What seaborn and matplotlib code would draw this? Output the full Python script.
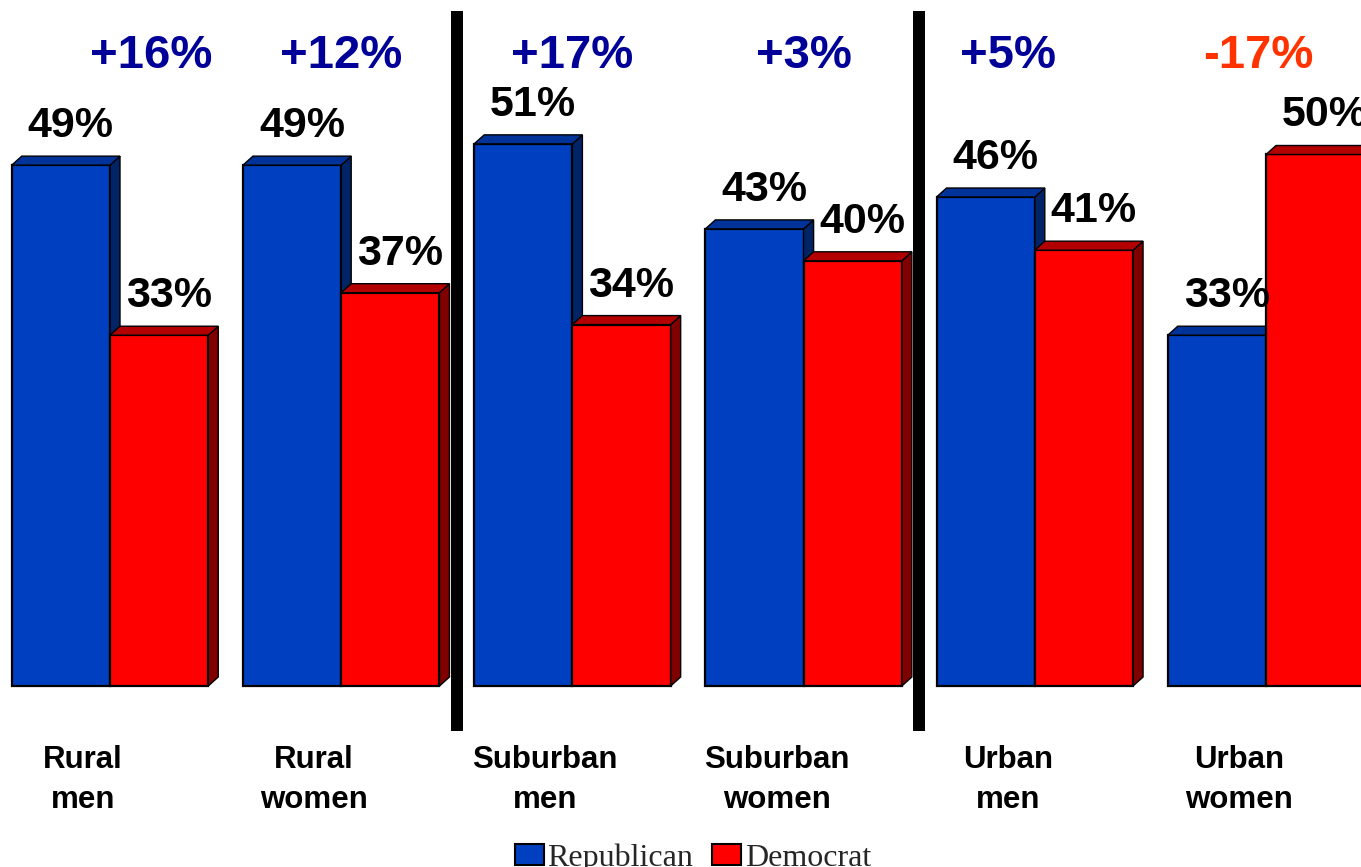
import matplotlib
matplotlib.use("Agg")
import matplotlib.pyplot as plt
import seaborn as sns
import pandas as pd
from matplotlib.patches import Polygon, Patch

# ---- data ----
categories = ["Rural\nmen", "Rural\nwomen", "Suburban\nmen", "Suburban\nwomen", "Urban\nmen", "Urban\nwomen"]
parties = ["Republican", "Democrat"]
republican = [49, 49, 51, 43, 46, 33]
democrat = [33, 37, 34, 40, 41, 50]

# ---- style ----
sns.set_theme(style="white")
plt.rcParams['font.family'] = ['Liberation Sans', 'DejaVu Sans']

front = {"Republican": "#0040C0", "Democrat": "#FF0000"}
topc = {"Republican": "#003399", "Democrat": "#B30000"}
sidec = {"Republican": "#002466", "Democrat": "#800000"}

W, H = 1361, 867
fig = plt.figure(figsize=(W / 100, H / 100), dpi=100)
ax = fig.add_axes([0, 0, 1, 1])

df = pd.DataFrame({
    "group": categories * 2,
    "party": [parties[0]] * len(categories) + [parties[1]] * len(categories),
    "pct": republican + democrat,
})

sns.barplot(data=df, x="group", y="pct", hue="party", hue_order=parties, order=categories,
            palette=front, width=0.85, edgecolor="black", linewidth=1.6, saturation=1,
            errorbar=None, legend=False, ax=ax)

# axis mapping (pixel layout)
sx = 231.2   # px per category
sy = 10.63   # px per percent
x0px, y0px = 110, 686
ax.set_xlim(-x0px / sx, (W - x0px) / sx)
ax.set_ylim(-(H - y0px) / sy, y0px / sy)
ax.axis("off")

dx = 10 / sx
dy = 9 / sy

for i, (party, cont) in enumerate(zip(parties, ax.containers)):
    for bar in cont:
        bar.set_zorder(2 + i)
        bx, bw, bh = bar.get_x(), bar.get_width(), bar.get_height()
        side = Polygon([(bx + bw, 0), (bx + bw + dx, dy), (bx + bw + dx, bh + dy), (bx + bw, bh)],
                       closed=True, facecolor=sidec[party], edgecolor="black", linewidth=1.0,
                       zorder=2.5 + i)
        top = Polygon([(bx, bh), (bx + dx, bh + dy), (bx + bw + dx, bh + dy), (bx + bw, bh)],
                      closed=True, facecolor=topc[party], edgecolor="black", linewidth=1.0,
                      zorder=2.5 + i)
        ax.add_patch(side)
        ax.add_patch(top)
        ax.annotate(f"{bh:.0f}%", (bx + bw / 2, bh), xytext=(10 * 0.72, 28 * 0.72),
                    textcoords="offset points", ha="center", va="baseline",
                    fontsize=31, fontweight="bold", color="black", zorder=6,
                    annotation_clip=False)

# difference labels
diff_offsets = [0.18, 0.0, 0.0, 0.0, -0.117, -0.035]
diff_y = (y0px - 68) / sy
for i, (r, d) in enumerate(zip(republican, democrat)):
    diff = r - d
    ax.text(i + diff_offsets[i], diff_y, f"{diff:+d}%", ha="center", va="baseline",
            fontsize=34, fontweight="bold", color="#000099" if diff > 0 else "#FF3300", zorder=6)

# separators
for xs in (1.5, 3.5):
    ax.plot([xs, xs], [(y0px - 11) / sy, (y0px - 731) / sy], color="black", lw=12 * 0.72,
            solid_capstyle="butt", zorder=7)

# category labels
for i, cat in enumerate(categories):
    lines = cat.split("\n")
    for j, line in enumerate(lines):
        ax.text(i - 0.117, (y0px - (768 + 40 * j)) / sy, line, ha="center", va="baseline",
                fontsize=22.5, fontweight="bold", color="black")

# legend
handles = [Patch(facecolor=front[p], edgecolor="black", linewidth=1.5, label=p) for p in parties]
fig.legend(handles=handles, loc="center", bbox_to_anchor=(693 / W, 9 / H), ncol=2,
           frameon=False, prop={"family": "Liberation Serif", "size": 23},
           handlelength=0.9, handleheight=0.6, handletextpad=0.12, columnspacing=0.6,
           borderpad=0, borderaxespad=0)

fig.savefig("out.png", dpi=100)
